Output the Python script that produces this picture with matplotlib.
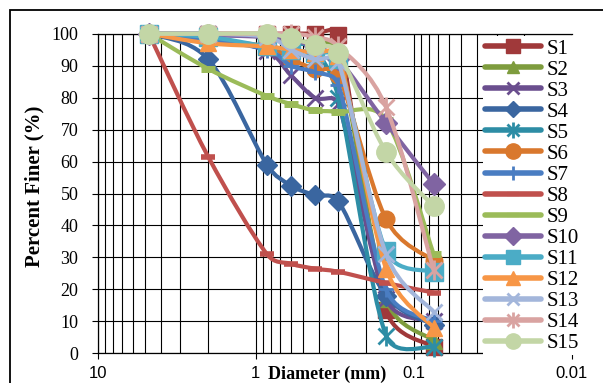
import numpy as np
import matplotlib
matplotlib.use("Agg")
import matplotlib.pyplot as plt
from matplotlib.path import Path
from matplotlib.patches import PathPatch, Rectangle
from matplotlib.lines import Line2D
from matplotlib.legend_handler import HandlerTuple
from matplotlib.ticker import FixedLocator, FixedFormatter, NullFormatter, LogLocator

# ---------------- data ----------------
diameters = [4.75, 2.0, 0.85, 0.6, 0.425, 0.3, 0.15, 0.075]
labels = ["S1", "S2", "S3", "S4", "S5", "S6", "S7", "S8",
          "S9", "S10", "S11", "S12", "S13", "S14", "S15"]
S1 = [100, 100, 100, 100, 100, 99.5, 13.5, 2]
S2 = [100, 100, 99, 98, 97, 95, 17, 4]
S3 = [100, 99, 94.5, 87, 80, 78, 17, 10]
S4 = [100, 92, 59, 52.5, 49.5, 47.5, 18, 9]
S5 = [100, 100, 99, 97, 95, 80, 5.5, 2]
S6 = [100, 98, 96, 92, 89, 87, 42, 29]
S7 = [100, 98, 95, 90, 88, 84, 20, 10]
S8 = [100, 61.5, 31, 28, 26.5, 25.5, 22, 19]
S9 = [100, 89, 80.5, 78, 76, 75.5, 73, 31]
S10 = [100, 99.5, 99, 98, 96, 92, 72, 53]
S11 = [100, 99, 96, 95, 94, 92, 32, 25.5]
S12 = [100, 97, 96, 95, 94, 93, 26.5, 8]
S13 = [100, 100, 99, 95, 92, 91, 31, 13]
S14 = [100, 100, 100, 100, 99, 96, 77, 26]
S15 = [100, 100, 100, 98.5, 96.5, 94, 63, 46]
series = [S1, S2, S3, S4, S5, S6, S7, S8, S9, S10, S11, S12, S13, S14, S15]
x_ticks = [10, 1, 0.1, 0.01]
x_tick_labels = ["10", "1", "0.1", "0.01"]
y_ticks = list(range(0, 101, 10))

# ---------------- styles ----------------
colors = ["#A0393A", "#7E9C3E", "#6A4E8E", "#3A66A0", "#2D8DA5", "#D9782D",
          "#4A7DC2", "#C0504D", "#9BBB59", "#8064A2", "#4BACC6", "#F79646",
          "#A3B6DB", "#D9A3A1", "#C3D6A6"]
# "*" means an asterisk drawn as "x" plus "|"
markers = ["s", "^", "x", "D", "*", "o", "+", "_", "_", "D", "s", "^", "x", "*", "o"]
msizes = [12, 11, 12, 10, 11, 12, 12, 10, 10, 11, 13, 12, 12, 11, 14]
mews = [1, 1, 2, 1, 2, 1, 2, 4, 5, 1, 1, 1, 2, 2, 1]
leg_ms = [10, 9, 9, 8, 8, 11, 10, 8, 8, 9, 10, 10, 9, 8, 11]

serif = "Liberation Serif"
sans = "Liberation Sans"

W, H = 603, 383
fig = plt.figure(figsize=(W / 100, H / 100), dpi=100)
left, right = 97.7 / W, 572 / W
bottom, top = 1 - 353.3 / H, 1 - 33.7 / H
ax = fig.add_axes([left, bottom, right - left, top - bottom])
ax.set_xscale("log")
ax.set_xlim(10, 0.01)
ax.set_ylim(0, 100)

ax.xaxis.set_major_locator(FixedLocator(x_ticks))
ax.xaxis.set_major_formatter(FixedFormatter(x_tick_labels))
ax.xaxis.set_minor_locator(LogLocator(base=10, subs=np.arange(2, 10)))
ax.xaxis.set_minor_formatter(NullFormatter())
ax.set_yticks(y_ticks)
ax.set_yticklabels([str(v) for v in y_ticks])
ax.grid(True, which="major", color="black", lw=0.8)
ax.grid(True, which="minor", axis="x", color="black", lw=0.8)
ax.set_axisbelow(True)
ax.tick_params(axis="x", which="major", direction="out", length=4, width=0.8, pad=5)
ax.tick_params(axis="x", which="minor", length=0)
ax.tick_params(axis="y", direction="out", length=4, width=0.8, pad=10)
for lab in ax.get_xticklabels():
    lab.set_fontfamily(sans)
    lab.set_fontsize(12)
for lab in ax.get_yticklabels():
    lab.set_fontfamily(serif)
    lab.set_fontsize(13)
for s in ["left", "bottom", "top"]:
    ax.spines[s].set_color("black")
    ax.spines[s].set_linewidth(0.9)
ax.spines["right"].set_visible(False)


def smooth_patch(xs, ys, color, lw, z):
    pts = ax.transData.transform(np.column_stack([xs, ys]))
    n = len(pts)
    verts = [pts[0]]
    codes = [Path.MOVETO]
    for i in range(n - 1):
        p0 = pts[i - 1] if i > 0 else pts[i]
        p1 = pts[i]
        p2 = pts[i + 1]
        p3 = pts[i + 2] if i + 2 < n else pts[i + 1]
        half = np.hypot(*(p2 - p1)) / 2.0
        t1 = (p2 - p0) / 6.0
        t2 = (p3 - p1) / 6.0
        l1 = np.hypot(*t1)
        l2 = np.hypot(*t2)
        if l1 > half and l1 > 0:
            t1 = t1 * half / l1
        if l2 > half and l2 > 0:
            t2 = t2 * half / l2
        verts += [p1 + t1, p2 - t2, p2]
        codes += [Path.CURVE4] * 3
    dv = ax.transData.inverted().transform(np.array(verts))
    patch = PathPatch(Path(dv, codes), facecolor="none", edgecolor=color, lw=lw,
                      transform=ax.transData, zorder=z, clip_on=False,
                      capstyle="round", joinstyle="round")
    ax.add_patch(patch)


handles = []
for i, ys in enumerate(series):
    c = colors[i]
    z = 3 + i * 0.1
    smooth_patch(diameters, ys, c, 3.0, z)
    if markers[i] == "*":
        ax.plot(diameters, ys, linestyle="none", marker="x", ms=msizes[i],
                mec=c, mew=mews[i], zorder=z + 0.05, clip_on=False)
        ax.plot(diameters, ys, linestyle="none", marker="|", ms=msizes[i] + 3,
                mec=c, mew=mews[i], zorder=z + 0.05, clip_on=False)
        h1 = Line2D([], [], color=c, lw=4, marker="x", ms=leg_ms[i], mec=c,
                    mew=mews[i], solid_capstyle="round")
        h2 = Line2D([], [], color=c, lw=0, marker="|", ms=leg_ms[i] + 3, mec=c,
                    mew=mews[i])
        handles.append((h1, h2))
    else:
        ax.plot(diameters, ys, linestyle="none", marker=markers[i], ms=msizes[i],
                mfc=c, mec=c, mew=mews[i], zorder=z + 0.05, clip_on=False)
        handles.append(Line2D([], [], color=c, lw=4, marker=markers[i], ms=leg_ms[i],
                              mfc=c, mec=c, mew=mews[i] if mews[i] < 3 else 3,
                              solid_capstyle="round"))

# white legend area
fig.patches.append(Rectangle((483 / W, 1 - 354.5 / H), 1 - 483 / W + 0.01, (354.5 - 36) / H,
                             transform=fig.transFigure, facecolor="white",
                             edgecolor="none", zorder=1))
leg = fig.legend(handles, labels, loc="upper left",
                 bbox_to_anchor=(485 / W, 1 - 39 / H),
                 frameon=False, prop={"family": serif, "size": 15},
                 handlelength=2.7, handletextpad=0.25, labelspacing=0.07,
                 borderpad=0, borderaxespad=0, numpoints=1,
                 handler_map={tuple: HandlerTuple(ndivide=1, pad=0)})
leg.set_zorder(5)

# chart border
fig.patches.append(Rectangle((10 / W, -0.1), 1.2, 1 - 10 / H + 0.1,
                             transform=fig.transFigure, facecolor="none",
                             edgecolor="black", lw=1.3, zorder=6))

fig.text(34 / W, 1 - 186.5 / H, "Percent Finer (%)", rotation=90, ha="center",
         va="center", fontfamily=serif, fontweight="bold", fontsize=15)
fig.text(268 / W, 1 - 374 / H, "Diameter (mm)", ha="left", va="center",
         fontfamily=serif, fontweight="bold", fontsize=13)

fig.savefig("out.png", dpi=100)
